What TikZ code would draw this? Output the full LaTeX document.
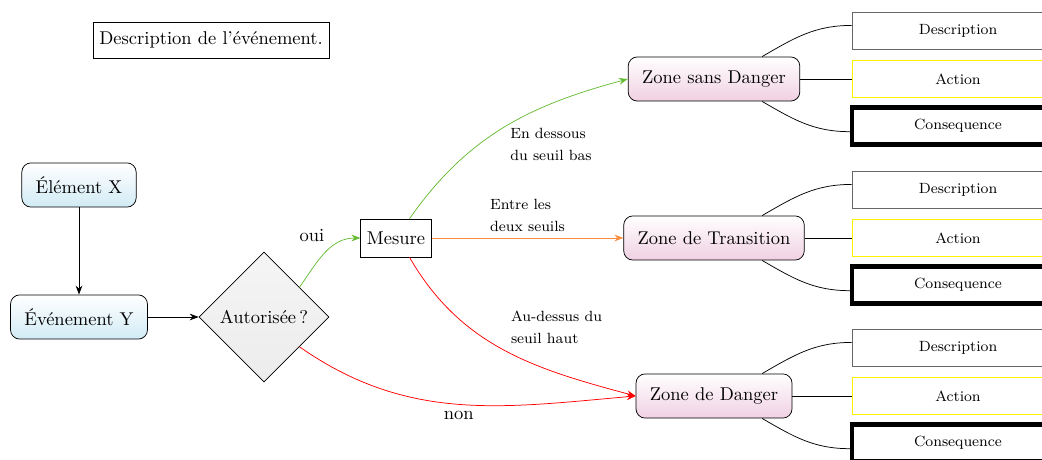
\documentclass[tikz,border=0pt]{standalone}
\usepackage{xcolor}
\usepackage{tikz}
\usetikzlibrary{shapes.geometric,arrows.meta,positioning,calc}

\definecolor{vertseuil}{RGB}{102,187,51}
\definecolor{orangeseuil}{RGB}{255,140,60}
\definecolor{bleuclair}{RGB}{210,235,245}
\definecolor{roseclair}{RGB}{240,208,226}

\begin{document}
\begin{tikzpicture}[
  x=0.019cm, y=0.019cm,
  >=Stealth,
  etape/.style={draw, rounded corners=5pt, top color=white, bottom color=bleuclair,
                minimum height=0.84cm, inner xsep=7.5pt},
  zone/.style={draw, rounded corners=5pt, top color=white, bottom color=roseclair,
               minimum height=0.84cm, inner xsep=7.5pt},
  test/.style={draw, diamond, aspect=1, minimum size=2.47cm, inner sep=1pt,
               top color=gray!8, bottom color=gray!15},
  mesurebox/.style={draw, rectangle, minimum height=0.72cm},
  info/.style={draw, rectangle, minimum width=4.03cm, minimum height=0.7cm, font=\footnotesize},
  lbl/.style={font=\linespread{1.25}\footnotesize, align=left, text=black}
]
\useasboundingbox (0,0) rectangle (1042,-459);

\node (titre) [draw, minimum height=0.68cm] at (211,-40) {Description de l'événement.};
\node (elx)   [etape] at (79,-185)  {Élément X};
\node (evy)   [etape] at (79,-317)  {Événement Y};
\node (autor) [test]  at (264,-317) {Autorisée\,?};
\node (mesure)[mesurebox] at (396,-238) {Mesure};

\node (zsd) [zone] at (714,-79)  {Zone sans Danger};
\node (ztr) [zone] at (714,-238) {Zone de Transition};
\node (zdg) [zone] at (714,-396) {Zone de Danger};

% les trois cadres de chaque zone
\foreach \z in {zsd,ztr,zdg}{
  \node (\z-desc) [info, draw=black!60]    at ($(\z)+(244,48)$)  {Description};
  \node (\z-act)  [info, draw=yellow]      at ($(\z)+(244,0)$)   {Action};
  \node (\z-cons) [info, line width=2.3pt] at ($(\z)+(244,-47)$) {Consequence};
  \draw (\z.25)  to[out=30,in=180]  (\z-desc.177);
  \draw (\z.east) -- (\z-act.west);
  \draw (\z.-25) to[out=-30,in=180] (\z-cons.183);
}

\draw[->] (elx) -- (evy);
\draw[->] (evy) -- (autor);
\draw[->, vertseuil] (autor.40) to[out=55,in=180] node[pos=0.6, above left, text=black]{oui} (mesure.west);
\draw[->, red] (autor.-40) to[out=-35,in=185] node[pos=0.5, below, text=black]{non} (zdg.west);
\draw[->, vertseuil] (mesure.55) to[out=55,in=195] node[pos=0.5, anchor=north west, yshift=3pt, lbl]{En dessous\\du seuil bas} (zsd.west);
\draw[->, orangeseuil] (mesure) -- node[above, lbl]{Entre les\\deux seuils} (ztr);
\draw[->, red] (mesure.-55) to[out=-60,in=165] node[pos=0.5, above right, lbl]{Au-dessus du\\seuil haut} (zdg.west);
\end{tikzpicture}
\end{document}
